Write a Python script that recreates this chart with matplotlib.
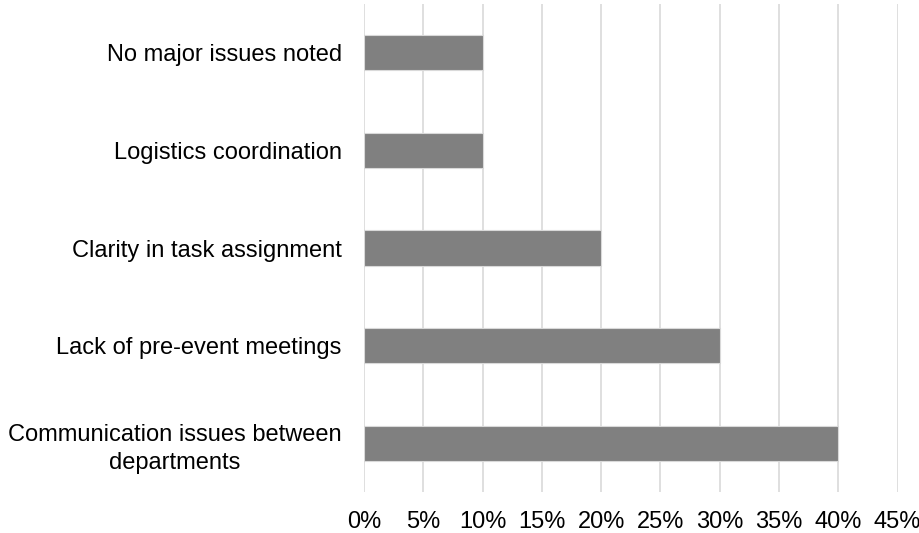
import matplotlib.pyplot as plt
import numpy as np

# Survey responses: share of respondents per coordination issue
issues = [
    'Communication issues between\ndepartments',
    'Lack of pre-event meetings',
    'Clarity in task assignment',
    'Logistics coordination',
    'No major issues noted',
]
shares = [40, 30, 20, 10, 10]
ticks = [0, 5, 10, 15, 20, 25, 30, 35, 40, 45]

plt.rcParams['font.family'] = ['Liberation Sans', 'DejaVu Sans']

fig = plt.figure(figsize=(9.2, 5.33), dpi=100)
ax = fig.add_axes([0.3957, 0.0769, 0.58, 0.9156])

y = np.arange(len(issues))
ax.barh(y, shares, height=0.36, color='#808080', edgecolor='#d9d9d9',
        linewidth=0.8, zorder=3)

ax.set_xlim(0, 45)
ax.set_ylim(-0.5, len(issues) - 0.5)
ax.set_xticks(ticks)
ax.set_xticklabels([f'{t}%' for t in ticks])
ax.set_yticks(y)
ax.set_yticklabels(issues, multialignment='center', linespacing=1.35)

ax.grid(axis='x', color='#d9d9d9', linewidth=1.2, zorder=0)
for s in ax.spines.values():
    s.set_visible(False)
ax.tick_params(axis='both', length=0, labelsize=17, colors='#000000')
ax.tick_params(axis='x', pad=14)
ax.tick_params(axis='y', pad=16)

fig.savefig('out.png', dpi=100)
